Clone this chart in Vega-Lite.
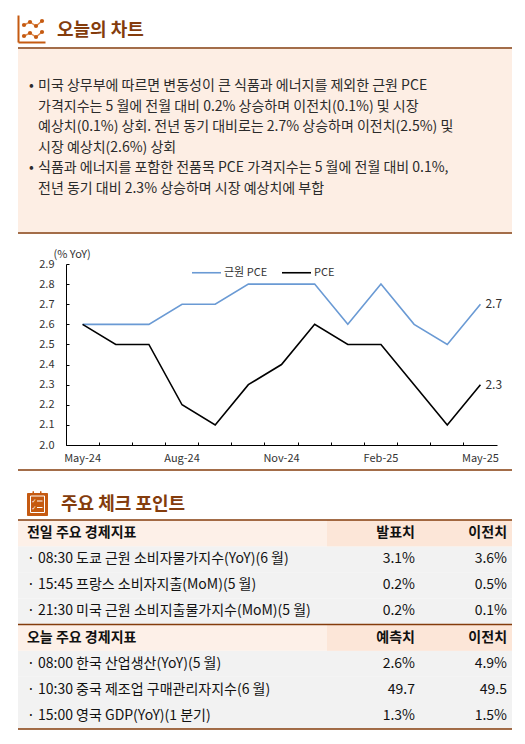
{
  "$schema": "https://vega.github.io/schema/vega-lite/v6.json",
  "background": "#FFFFFF",
  "padding": {"left": 17, "top": 15, "right": 0, "bottom": 0},
  "spacing": 0,
  "resolve": {
    "scale": {"color": "independent", "x": "independent", "y": "independent"},
    "legend": {"color": "independent"}
  },
  "config": {
    "view": {"stroke": null},
    "font": "Noto Sans CJK KR",
    "concat": {"spacing": 0}
  },
  "vconcat": [
    {
      "spacing": 12,
      "hconcat": [
        {
          "width": 27,
          "height": 27,
          "data": {
            "values": [
              {"series": "top", "step": 1, "level": 17},
              {"series": "top", "step": 2, "level": 20},
              {"series": "top", "step": 3, "level": 16},
              {"series": "top", "step": 4, "level": 21},
              {"series": "bottom", "step": 1, "level": 6},
              {"series": "bottom", "step": 2, "level": 9},
              {"series": "bottom", "step": 3, "level": 5},
              {"series": "bottom", "step": 4, "level": 10}
            ]
          },
          "mark": {
            "type": "line",
            "color": "#E08A4C",
            "strokeWidth": 1.5,
            "point": {"filled": true, "size": 18, "color": "#C55A11"}
          },
          "encoding": {
            "x": {
              "field": "step",
              "type": "quantitative",
              "scale": {"domain": [0, 4.5]},
              "axis": {"domainColor": "#C55A11", "domainWidth": 2, "labels": false, "ticks": false, "grid": false, "title": null}
            },
            "y": {
              "field": "level",
              "type": "quantitative",
              "scale": {"domain": [0, 27]},
              "axis": {"domainColor": "#C55A11", "domainWidth": 2, "labels": false, "ticks": false, "grid": false, "title": null}
            },
            "detail": {"field": "series"}
          }
        },
        {
          "width": 420,
          "height": 32,
          "data": {"values": [{"title": "오늘의 차트"}]},
          "mark": {"type": "text", "align": "left", "baseline": "middle", "fontSize": 18, "fontWeight": "bold", "color": "#843C0C"},
          "encoding": {
            "x": {"datum": 0, "type": "quantitative", "scale": {"domain": [0, 1]}, "axis": null},
            "text": {"field": "title"}
          }
        }
      ]
    },
    {
      "width": 494,
      "height": 1,
      "data": {"values": [{"line": "rule"}]},
      "mark": {"type": "rule", "color": "#843C0C", "strokeWidth": 1.5},
      "encoding": {"y": {"datum": 1, "type": "quantitative", "scale": {"domain": [0, 1]}, "axis": null}}
    },
    {
      "width": 494,
      "height": 183,
      "view": {"fill": "#FDEEE4", "stroke": null},
      "data": {
        "values": [
          {"line": 1, "bullet": "•", "text": "미국 상무부에 따르면 변동성이 큰 식품과 에너지를 제외한 근원 PCE"},
          {"line": 2, "bullet": "", "text": "가격지수는 5 월에 전월 대비 0.2% 상승하며 이전치(0.1%) 및 시장"},
          {"line": 3, "bullet": "", "text": "예상치(0.1%) 상회. 전년 동기 대비로는 2.7% 상승하며 이전치(2.5%) 및"},
          {"line": 4, "bullet": "", "text": "시장 예상치(2.6%) 상회"},
          {"line": 5, "bullet": "•", "text": "식품과 에너지를 포함한 전품목 PCE 가격지수는 5 월에 전월 대비 0.1%,"},
          {"line": 6, "bullet": "", "text": "전년 동기 대비 2.3% 상승하며 시장 예상치에 부합"}
        ]
      },
      "encoding": {
        "y": {
          "field": "line",
          "type": "ordinal",
          "scale": {"type": "band", "domain": [0, 1, 2, 3, 4, 5, 6, 7], "paddingInner": 0, "paddingOuter": 0.463, "align": 0.33},
          "axis": null
        }
      },
      "layer": [
        {
          "transform": [{"filter": "datum.bullet != ''"}],
          "mark": {"type": "text", "align": "left", "baseline": "middle", "fontSize": 14, "color": "#2B2B2B"},
          "encoding": {
            "x": {"datum": 0.0223, "type": "quantitative", "scale": {"domain": [0, 1]}, "axis": null},
            "text": {"field": "bullet"}
          }
        },
        {
          "mark": {"type": "text", "align": "left", "baseline": "middle", "fontSize": 14, "color": "#2B2B2B"},
          "encoding": {
            "x": {"datum": 0.0405, "type": "quantitative", "axis": null},
            "text": {"field": "text"}
          }
        }
      ]
    },
    {
      "width": 494,
      "height": 15,
      "data": {"values": [{"line": "rule"}]},
      "mark": {"type": "rule", "color": "#843C0C", "strokeWidth": 1.5},
      "encoding": {"y": {"datum": 1, "type": "quantitative", "scale": {"domain": [0, 1]}, "axis": null}}
    },
    {
      "width": 494,
      "height": 181,
      "data": {
        "values": [
          {"series": "근원 PCE", "month": "May-24", "value": 2.6},
          {"series": "근원 PCE", "month": "Jun-24", "value": 2.6},
          {"series": "근원 PCE", "month": "Jul-24", "value": 2.6},
          {"series": "근원 PCE", "month": "Aug-24", "value": 2.7},
          {"series": "근원 PCE", "month": "Sep-24", "value": 2.7},
          {"series": "근원 PCE", "month": "Oct-24", "value": 2.8},
          {"series": "근원 PCE", "month": "Nov-24", "value": 2.8},
          {"series": "근원 PCE", "month": "Dec-24", "value": 2.8},
          {"series": "근원 PCE", "month": "Jan-25", "value": 2.6},
          {"series": "근원 PCE", "month": "Feb-25", "value": 2.8},
          {"series": "근원 PCE", "month": "Mar-25", "value": 2.6},
          {"series": "근원 PCE", "month": "Apr-25", "value": 2.5},
          {"series": "근원 PCE", "month": "May-25", "value": 2.7},
          {"series": "PCE", "month": "May-24", "value": 2.6},
          {"series": "PCE", "month": "Jun-24", "value": 2.5},
          {"series": "PCE", "month": "Jul-24", "value": 2.5},
          {"series": "PCE", "month": "Aug-24", "value": 2.2},
          {"series": "PCE", "month": "Sep-24", "value": 2.1},
          {"series": "PCE", "month": "Oct-24", "value": 2.3},
          {"series": "PCE", "month": "Nov-24", "value": 2.4},
          {"series": "PCE", "month": "Dec-24", "value": 2.6},
          {"series": "PCE", "month": "Jan-25", "value": 2.5},
          {"series": "PCE", "month": "Feb-25", "value": 2.5},
          {"series": "PCE", "month": "Mar-25", "value": 2.3},
          {"series": "PCE", "month": "Apr-25", "value": 2.1},
          {"series": "PCE", "month": "May-25", "value": 2.3}
        ]
      },
      "encoding": {
        "x": {
          "field": "month",
          "type": "ordinal",
          "sort": null,
          "bandPosition": 0.5,
          "scale": {"type": "band", "paddingInner": 0, "paddingOuter": 0, "range": [48, 479]},
          "axis": {
            "title": null,
            "bandPosition": 0,
            "tickSize": -3,
            "labelPadding": 10,
            "labelAngle": 0,
            "labelOverlap": false,
            "labelExpr": "indexof(['May-24','Aug-24','Nov-24','Feb-25','May-25'], datum.label) >= 0 ? datum.label : ''",
            "domainColor": "#000000",
            "tickColor": "#000000",
            "labelColor": "#333333",
            "labelFontSize": 11,
            "grid": false,
            "minExtent": 24
          }
        },
        "y": {
          "field": "value",
          "type": "quantitative",
          "scale": {"domain": [2.0, 2.9], "zero": false, "nice": false},
          "axis": {
            "title": "(% YoY)",
            "offset": -48,
            "titleAngle": 0,
            "titleAlign": "left",
            "titleBaseline": "middle",
            "titleX": -13,
            "titleY": -10,
            "titleFontWeight": "normal",
            "titleFontSize": 11,
            "titleColor": "#333333",
            "values": [2.0, 2.1, 2.2, 2.3, 2.4, 2.5, 2.6, 2.7, 2.8, 2.9],
            "format": ".1f",
            "tickSize": -3,
            "labelPadding": 15,
            "domainColor": "#000000",
            "tickColor": "#000000",
            "labelColor": "#333333",
            "labelFontSize": 11,
            "grid": false
          }
        }
      },
      "layer": [
        {
          "mark": {"type": "line", "strokeWidth": 1.6},
          "encoding": {
            "color": {
              "field": "series",
              "type": "nominal",
              "scale": {"domain": ["근원 PCE", "PCE"], "range": ["#6A9AD4", "#000000"]},
              "legend": {
                "title": null,
                "orient": "none",
                "legendX": 173,
                "legendY": -7,
                "direction": "horizontal",
                "symbolType": "stroke",
                "symbolSize": 841,
                "symbolStrokeWidth": 1.6,
                "labelFontSize": 11,
                "labelColor": "#333333",
                "labelOffset": 2,
                "columnPadding": 10
              }
            }
          }
        },
        {
          "transform": [{"filter": "datum.month == 'May-25'"}],
          "mark": {"type": "text", "align": "left", "baseline": "middle", "dx": 5, "fontSize": 12, "color": "#333333"},
          "encoding": {"text": {"field": "value", "type": "quantitative", "format": ".1f"}}
        }
      ]
    },
    {
      "width": 494,
      "height": 21,
      "data": {"values": [{"line": "rule"}]},
      "mark": {"type": "rule", "color": "#843C0C", "strokeWidth": 1.5},
      "encoding": {"y": {"datum": 1, "type": "quantitative", "scale": {"domain": [0, 1]}, "axis": null}}
    },
    {
      "spacing": 13,
      "hconcat": [
        {
          "width": 30,
          "height": 25,
          "encoding": {
            "x": {"field": "left", "type": "quantitative", "scale": {"domain": [0, 30]}, "axis": null},
            "y": {"field": "bottom", "type": "quantitative", "scale": {"domain": [0, 25]}, "axis": null}
          },
          "layer": [
            {
              "data": {
                "values": [
                  {"part": "body", "left": 9, "right": 30, "bottom": 0, "top": 23},
                  {"part": "ring", "left": 14.5, "right": 16, "bottom": 21, "top": 25},
                  {"part": "ring", "left": 22, "right": 23.5, "bottom": 21, "top": 25}
                ]
              },
              "mark": {"type": "rect", "color": "#C55A11", "cornerRadius": 1},
              "encoding": {"x2": {"field": "right"}, "y2": {"field": "top"}}
            },
            {
              "data": {"values": [{"part": "sheet", "left": 12.5, "right": 26.5, "bottom": 3.5, "top": 20}]},
              "mark": {"type": "rect", "filled": false, "color": "#FFFFFF", "strokeWidth": 1},
              "encoding": {"x2": {"field": "right"}, "y2": {"field": "top"}}
            },
            {
              "data": {
                "values": [
                  {"part": "item", "left": 19, "right": 24.5, "bottom": 15},
                  {"part": "item", "left": 19, "right": 24.5, "bottom": 8.5}
                ]
              },
              "mark": {"type": "rule", "color": "#FFFFFF", "strokeWidth": 1},
              "encoding": {"x2": {"field": "right"}}
            },
            {
              "data": {
                "values": [
                  {"part": "check", "left": 16, "bottom": 15, "glyph": "✓"},
                  {"part": "check", "left": 16, "bottom": 8.5, "glyph": "✓"}
                ]
              },
              "mark": {"type": "text", "font": "DejaVu Sans", "fontSize": 6, "fontWeight": "bold", "color": "#FFFFFF", "baseline": "middle"},
              "encoding": {"text": {"field": "glyph"}}
            }
          ]
        },
        {
          "width": 420,
          "height": 28,
          "data": {"values": [{"title": "주요 체크 포인트"}]},
          "mark": {"type": "text", "align": "left", "baseline": "middle", "fontSize": 18, "fontWeight": "bold", "color": "#843C0C"},
          "encoding": {
            "x": {"datum": 0, "type": "quantitative", "scale": {"domain": [0, 1]}, "axis": null},
            "text": {"field": "title"}
          }
        }
      ]
    },
    {
      "width": 494,
      "height": 209,
      "data": {
        "values": [
          {"id": 1, "kind": "head", "label": "전일 주요 경제지표", "v1": "발표치", "v2": "이전치"},
          {"id": 2, "kind": "item", "label": "· 08:30 도쿄 근원 소비자물가지수(YoY)(6 월)", "v1": "3.1%", "v2": "3.6%"},
          {"id": 3, "kind": "item", "label": "· 15:45 프랑스 소비자지출(MoM)(5 월)", "v1": "0.2%", "v2": "0.5%"},
          {"id": 4, "kind": "item", "label": "· 21:30 미국 근원 소비지출물가지수(MoM)(5 월)", "v1": "0.2%", "v2": "0.1%"},
          {"id": 5, "kind": "head", "label": "오늘 주요 경제지표", "v1": "예측치", "v2": "이전치"},
          {"id": 6, "kind": "item", "label": "· 08:00 한국 산업생산(YoY)(5 월)", "v1": "2.6%", "v2": "4.9%"},
          {"id": 7, "kind": "item", "label": "· 10:30 중국 제조업 구매관리자지수(6 월)", "v1": "49.7", "v2": "49.5"},
          {"id": 8, "kind": "item", "label": "· 15:00 영국 GDP(YoY)(1 분기)", "v1": "1.3%", "v2": "1.5%"}
        ]
      },
      "encoding": {
        "y": {"field": "id", "type": "ordinal", "scale": {"type": "band", "paddingInner": 0, "paddingOuter": 0}, "axis": null}
      },
      "layer": [
        {
          "transform": [{"filter": "datum.kind == 'item'"}],
          "mark": {"type": "rect", "color": "#F2F2F2"}
        },
        {
          "transform": [{"filter": "datum.kind == 'head'"}],
          "mark": {"type": "rect", "color": "#FDF0E8"}
        },
        {
          "transform": [{"filter": "datum.kind == 'head'"}],
          "mark": {"type": "rect", "color": "#FCE6D8"},
          "encoding": {
            "x": {"datum": 0.6255, "type": "quantitative", "scale": {"domain": [0, 1]}, "axis": null},
            "x2": {"datum": 1}
          }
        },
        {
          "transform": [{"filter": "datum.kind == 'head'"}],
          "mark": {"type": "rule", "color": "#843C0C", "strokeWidth": 1.5},
          "encoding": {"y": {"field": "id", "type": "ordinal", "bandPosition": 0}}
        },
        {
          "transform": [{"filter": "datum.id == 8"}],
          "mark": {"type": "rule", "color": "#843C0C", "strokeWidth": 1.5},
          "encoding": {"y": {"field": "id", "type": "ordinal", "bandPosition": 1}}
        },
        {
          "transform": [{"filter": "datum.kind == 'head'"}],
          "mark": {"type": "text", "align": "left", "baseline": "middle", "fontSize": 14, "fontWeight": "bold", "color": "#111111"},
          "encoding": {"x": {"datum": 0.0182, "type": "quantitative", "axis": null}, "text": {"field": "label"}}
        },
        {
          "transform": [{"filter": "datum.kind == 'head'"}],
          "mark": {"type": "text", "align": "right", "baseline": "middle", "fontSize": 14, "fontWeight": "bold", "color": "#111111"},
          "encoding": {"x": {"datum": 0.8036, "type": "quantitative", "axis": null}, "text": {"field": "v1"}}
        },
        {
          "transform": [{"filter": "datum.kind == 'head'"}],
          "mark": {"type": "text", "align": "right", "baseline": "middle", "fontSize": 14, "fontWeight": "bold", "color": "#111111"},
          "encoding": {"x": {"datum": 0.9899, "type": "quantitative", "axis": null}, "text": {"field": "v2"}}
        },
        {
          "transform": [{"filter": "datum.kind == 'item'"}],
          "mark": {"type": "text", "align": "left", "baseline": "middle", "fontSize": 14, "color": "#111111"},
          "encoding": {"x": {"datum": 0.0182, "type": "quantitative", "axis": null}, "text": {"field": "label"}}
        },
        {
          "transform": [{"filter": "datum.kind == 'item'"}],
          "mark": {"type": "text", "align": "right", "baseline": "middle", "fontSize": 14, "color": "#111111"},
          "encoding": {"x": {"datum": 0.8036, "type": "quantitative", "axis": null}, "text": {"field": "v1"}}
        },
        {
          "transform": [{"filter": "datum.kind == 'item'"}],
          "mark": {"type": "text", "align": "right", "baseline": "middle", "fontSize": 14, "color": "#111111"},
          "encoding": {"x": {"datum": 0.9899, "type": "quantitative", "axis": null}, "text": {"field": "v2"}}
        }
      ]
    }
  ]
}
